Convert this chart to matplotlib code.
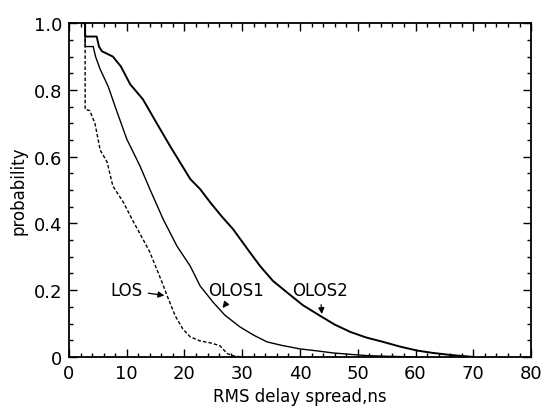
import matplotlib
matplotlib.use("Agg")
import matplotlib.pyplot as plt
import matplotlib.ticker as ticker

# Complementary CDFs of RMS delay spread
los_x = [2.6, 2.8, 2.8, 3.6, 4.5, 5.4, 6.6, 7.6, 9.4, 11.0, 12.8, 14.0, 15.2, 16.2, 17.0, 18.4, 19.7, 21.0, 22.7, 24.5, 26.1, 27.4, 28.5, 30.0]
los_p = [1.0, 1.0, 0.742, 0.738, 0.70, 0.62, 0.584, 0.512, 0.464, 0.41, 0.353, 0.314, 0.263, 0.22, 0.183, 0.123, 0.084, 0.06, 0.048, 0.042, 0.034, 0.01, 0.003, 0.0]

olos1_x = [2.6, 2.8, 2.8, 4.2, 4.6, 5.4, 6.8, 8.0, 10.0, 12.3, 14.0, 16.3, 18.7, 21.0, 22.7, 24.9, 27.0, 29.6, 32.0, 34.3, 37.0, 40.0, 43.0, 45.7, 48.5, 51.6, 55.0, 60.0]
olos1_p = [1.0, 1.0, 0.93, 0.93, 0.90, 0.862, 0.81, 0.75, 0.653, 0.572, 0.503, 0.413, 0.332, 0.272, 0.213, 0.165, 0.125, 0.09, 0.065, 0.045, 0.034, 0.024, 0.018, 0.012, 0.008, 0.004, 0.002, 0.0]

olos2_x = [2.6, 2.8, 2.8, 4.8, 5.2, 5.7, 7.6, 9.0, 10.6, 12.8, 15.2, 17.5, 19.2, 21.0, 22.7, 24.5, 26.5, 28.4, 31.3, 33.1, 35.3, 37.7, 40.5, 43.5, 46.0, 48.7, 51.5, 54.4, 57.3, 60.3, 63.0, 66.0, 68.0, 70.0]
olos2_p = [1.0, 1.0, 0.96, 0.96, 0.93, 0.916, 0.90, 0.87, 0.817, 0.772, 0.70, 0.632, 0.584, 0.533, 0.503, 0.462, 0.42, 0.383, 0.314, 0.272, 0.228, 0.194, 0.155, 0.123, 0.097, 0.075, 0.058, 0.045, 0.031, 0.019, 0.012, 0.006, 0.003, 0.0]

x_ticks = [0, 10, 20, 30, 40, 50, 60, 70, 80]
y_ticks = [0, 0.2, 0.4, 0.6, 0.8, 1.0]
y_tick_labels = ["0", "0.2", "0.4", "0.6", "0.8", "1.0"]

fig = plt.figure(figsize=(5.43, 4.10), dpi=100)
ax = fig.add_axes([0.127, 0.127, 0.851, 0.814])

ax.plot(los_x, los_p, color="black", linestyle=(0, (2.5, 1.5)), linewidth=1.0)
ax.plot(olos1_x, olos1_p, color="black", linewidth=1.0)
ax.plot(olos2_x, olos2_p, color="black", linewidth=1.4)

ax.set_xlim(0, 80)
ax.set_ylim(0, 1.0)
ax.set_xticks(x_ticks)
ax.set_yticks(y_ticks)
ax.set_yticklabels(y_tick_labels)
ax.xaxis.set_minor_locator(ticker.MultipleLocator(2))
ax.yaxis.set_minor_locator(ticker.MultipleLocator(0.05))
ax.tick_params(which="both", direction="in", top=True, right=True,
               labeltop=False, labelright=False, width=1.0, labelsize=13)
ax.tick_params(which="major", length=6, pad=5)
ax.tick_params(which="minor", length=3)
for s in ax.spines.values():
    s.set_linewidth(1.3)

ax.set_xlabel("RMS delay spread,ns", fontsize=12)
ax.set_ylabel("probability", fontsize=12)

arrow = dict(arrowstyle="-|>", color="black", lw=0.9, mutation_scale=9)
ax.annotate("LOS", xy=(17.0, 0.183), xytext=(10.0, 0.2), fontsize=12,
            ha="center", va="center", arrowprops=arrow)
ax.annotate("OLOS1", xy=(26.3, 0.14), xytext=(29.0, 0.2), fontsize=12,
            ha="center", va="center", arrowprops=arrow)
ax.annotate("OLOS2", xy=(43.8, 0.12), xytext=(43.5, 0.2), fontsize=12,
            ha="center", va="center", arrowprops=arrow)

fig.savefig("out.png", dpi=100)
